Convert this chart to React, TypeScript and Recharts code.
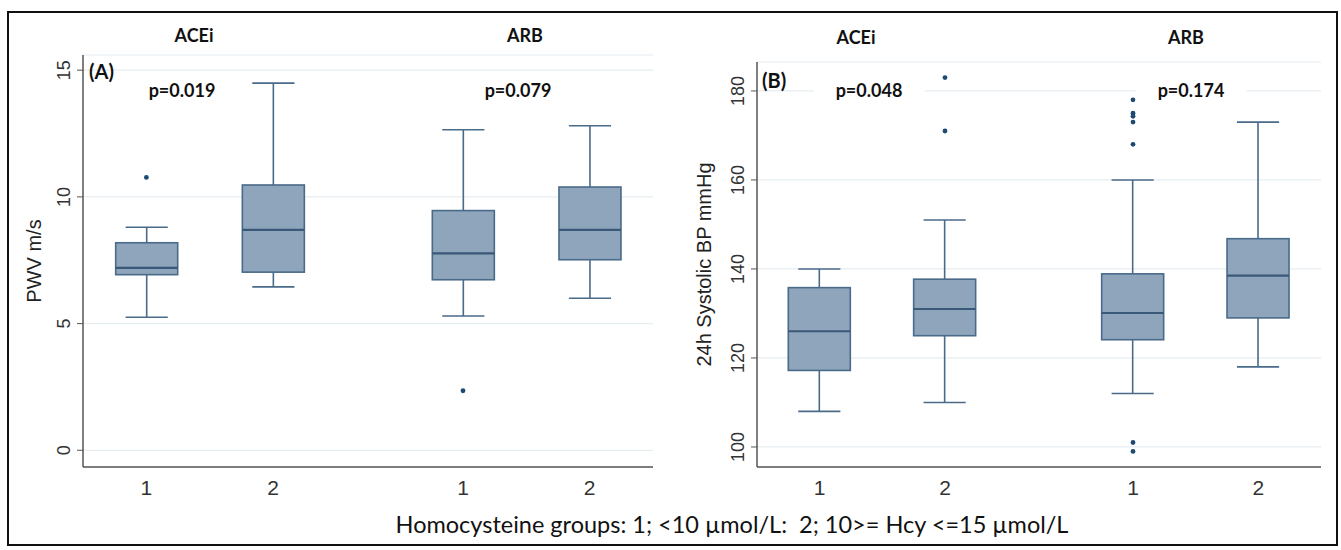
import React from 'react';
import { ComposedChart, Bar, Scatter, XAxis, YAxis, CartesianGrid } from 'recharts';

// x slots: Hcy group 1 and 2 for ACEi and ARB, with empty slots for the spacing
const slots = ['acei1', 'gap1', 'acei2', 'gap2', 'gap3', 'arb1', 'gap4', 'arb2'];
const slotLabels = ['1', '', '2', '', '', '1', '', '2'];
const boxSlots = ['acei1', 'acei2', 'arb1', 'arb2'];

// (A) PWV m/s
const pwvLow = [5.25, 6.45, 5.3, 6.0];
const pwvQ1 = [6.93, 7.03, 6.73, 7.52];
const pwvMedian = [7.2, 8.7, 7.77, 8.7];
const pwvQ3 = [8.19, 10.47, 9.46, 10.39];
const pwvHigh = [8.8, 14.49, 12.65, 12.81];
const pwvOutlierSlots = ['acei1', 'arb1'];
const pwvOutlierValues = [10.77, 2.35];
const pwvTicks = [0, 5, 10, 15];

// (B) 24h systolic BP mmHg
const sbpLow = [108, 110, 112, 118];
const sbpQ1 = [117.2, 125, 124.1, 129];
const sbpMedian = [126, 131, 130.1, 138.5];
const sbpQ3 = [135.8, 137.7, 138.9, 146.8];
const sbpHigh = [140, 151, 160, 173];
const sbpOutlierSlots = ['acei2', 'acei2', 'arb1', 'arb1', 'arb1', 'arb1', 'arb1', 'arb1', 'arb1'];
const sbpOutlierValues = [183, 171, 178, 175, 174.3, 173, 168, 101, 99];
const sbpTicks = [100, 120, 140, 160, 180];

const BOX_FILL = '#8ea5bb';
const BOX_LINE = '#4a6a89';
const DOT = '#1d4a72';
const AXIS = '#555';
const TXT = '#333';

function buildRows(low: number[], q1: number[], med: number[], q3: number[], high: number[]) {
  return slots.map((slot) => {
    const i = boxSlots.indexOf(slot);
    if (i < 0) return { slot };
    return { slot, range: [low[i], high[i]], low: low[i], q1: q1[i], median: med[i], q3: q3[i], high: high[i] };
  });
}

function buildOutliers(slotList: string[], values: number[]) {
  return slotList.map((slot, i) => ({ slot, value: values[i] }));
}

// draws whiskers, box and median inside the bar's [low, high] pixel span
function BoxShape(props: any) {
  const { x, y, width, height, payload } = props;
  if (!payload || !payload.range || !height || isNaN(y)) return <g />;
  const { low, high, q1, median, q3 } = payload;
  const toY = (v: number) => y + (height * (high - v)) / (high - low);
  const cx = x + width / 2;
  const cap = width * 0.34;
  return (
    <g>
      <line x1={cx} x2={cx} y1={toY(high)} y2={toY(q3)} stroke={BOX_LINE} strokeWidth={1.6} />
      <line x1={cx} x2={cx} y1={toY(q1)} y2={toY(low)} stroke={BOX_LINE} strokeWidth={1.6} />
      <line x1={cx - cap} x2={cx + cap} y1={toY(high)} y2={toY(high)} stroke={BOX_LINE} strokeWidth={1.6} />
      <line x1={cx - cap} x2={cx + cap} y1={toY(low)} y2={toY(low)} stroke={BOX_LINE} strokeWidth={1.6} />
      <rect x={x} y={toY(q3)} width={width} height={toY(q1) - toY(q3)} fill={BOX_FILL} stroke={BOX_LINE} strokeWidth={1.6} />
      <line x1={x} x2={x + width} y1={toY(median)} y2={toY(median)} stroke="#3a5877" strokeWidth={2.2} />
    </g>
  );
}

function Dot(props: any) {
  if (props.cx == null || props.cy == null) return <g />;
  return <circle cx={props.cx} cy={props.cy} r={2.4} fill={DOT} />;
}

function RotatedTick(props: any) {
  const { x, y, payload } = props;
  return (
    <text x={x} y={y} transform={`rotate(-90 ${x} ${y})`} textAnchor="middle" fontSize={18}
      fontFamily="'Liberation Sans', Arial, sans-serif" fill={TXT}>
      {payload.value}
    </text>
  );
}

type PanelProps = {
  rows: any[];
  outliers: any[];
  domain: [number, number];
  ticks: number[];
  yLabel: string;
  width: number;
  margin: { top: number; right: number; left: number; bottom: number };
  pad: number;
  labelOffset: number;
};

function BoxPanel({ rows, outliers, domain, ticks, yLabel, width, margin, pad, labelOffset }: PanelProps) {
  return (
    <ComposedChart width={width} height={500} data={rows} margin={margin} barSize={62}>
      <CartesianGrid vertical={false} stroke="#e6edf1" strokeWidth={1.2} />
      <XAxis dataKey="slot" type="category" allowDuplicatedCategory={false} interval={0}
        padding={{ left: pad, right: pad }} height={30} tickLine={false} tickSize={0} tickMargin={13}
        axisLine={{ stroke: AXIS, strokeWidth: 1.5 }}
        tick={{ fontSize: 21, fill: TXT, fontFamily: "'Liberation Sans', Arial, sans-serif" }}
        tickFormatter={(v: string) => slotLabels[slots.indexOf(v)]} />
      <YAxis type="number" domain={domain} ticks={ticks} allowDataOverflow width={60}
        axisLine={{ stroke: AXIS, strokeWidth: 1.5 }} tickLine={{ stroke: AXIS }} tickSize={6} tickMargin={7}
        tick={<RotatedTick />}
        label={{ value: yLabel, angle: -90, position: 'insideLeft', offset: labelOffset,
          style: { textAnchor: 'middle', fontSize: 20, fill: '#222', fontFamily: "'Liberation Sans', Arial, sans-serif" } }} />
      <Bar dataKey="range" shape={<BoxShape />} isAnimationActive={false} />
      <Scatter data={outliers} dataKey="value" shape={<Dot />} isAnimationActive={false} />
    </ComposedChart>
  );
}

const boldText: React.CSSProperties = {
  position: 'absolute', transform: 'translate(-50%, -50%)', fontFamily: 'Lato, sans-serif',
  fontWeight: 700, fontSize: 18, lineHeight: 1, whiteSpace: 'nowrap', color: '#111',
};

function Note({ x, y, text, size, bg }: { x: number; y: number; text: string; size?: number; bg?: boolean }) {
  return (
    <div style={{ ...boldText, left: x, top: y, fontSize: size ?? 18,
      background: bg ? '#fff' : 'transparent', padding: bg ? '2px 22px' : 0 }}>{text}</div>
  );
}

export default function App() {
  const pwvRows = buildRows(pwvLow, pwvQ1, pwvMedian, pwvQ3, pwvHigh);
  const sbpRows = buildRows(sbpLow, sbpQ1, sbpMedian, sbpQ3, sbpHigh);
  return (
    <div style={{ position: 'absolute', left: 7, top: 11, width: 1331, height: 535,
      border: '2px solid #111', boxSizing: 'border-box', background: '#fff' }}>
      <div style={{ position: 'absolute', left: 0, top: 0 }}>
        <BoxPanel rows={pwvRows} outliers={buildOutliers(pwvOutlierSlots, pwvOutlierValues)}
          domain={[-0.66, 15.6]} ticks={pwvTicks} yLabel="PWV m/s" width={660}
          margin={{ top: 42, right: 16, left: 14, bottom: 16 }} pad={31.7} labelOffset={11} />
      </div>
      <div style={{ position: 'absolute', left: 672, top: 0 }}>
        <BoxPanel rows={sbpRows} outliers={buildOutliers(sbpOutlierSlots, sbpOutlierValues)}
          domain={[95.5, 186.5]} ticks={sbpTicks} yLabel="24h Systolic BP mmHg" width={656}
          margin={{ top: 49, right: 16, left: 16, bottom: 16 }} pad={31.3} labelOffset={7} />
      </div>
      <Note x={185} y={22} text="ACEi" />
      <Note x={516} y={22} text="ARB" />
      <Note x={847} y={24} text="ACEi" />
      <Note x={1177} y={24} text="ARB" />
      <div style={{ ...boldText, transform: 'translateY(-50%)', left: 80, top: 58, fontSize: 20 }}>(A)</div>
      <div style={{ ...boldText, transform: 'translateY(-50%)', left: 753, top: 67, fontSize: 20 }}>(B)</div>
      <Note x={173} y={77} text="p=0.019" bg />
      <Note x={509} y={77} text="p=0.079" bg />
      <Note x={860} y={77} text="p=0.048" bg />
      <Note x={1182} y={77} text="p=0.174" bg />
      <div style={{ position: 'absolute', left: 723, top: 512, transform: 'translate(-50%, -50%)',
        fontFamily: 'Lato, sans-serif', fontSize: 23.5, lineHeight: 1, whiteSpace: 'nowrap', color: '#111' }}>
        Homocysteine groups: 1; &lt;10 µmol/L:&nbsp; 2; 10&gt;= Hcy &lt;=15 µmol/L
      </div>
    </div>
  );
}
